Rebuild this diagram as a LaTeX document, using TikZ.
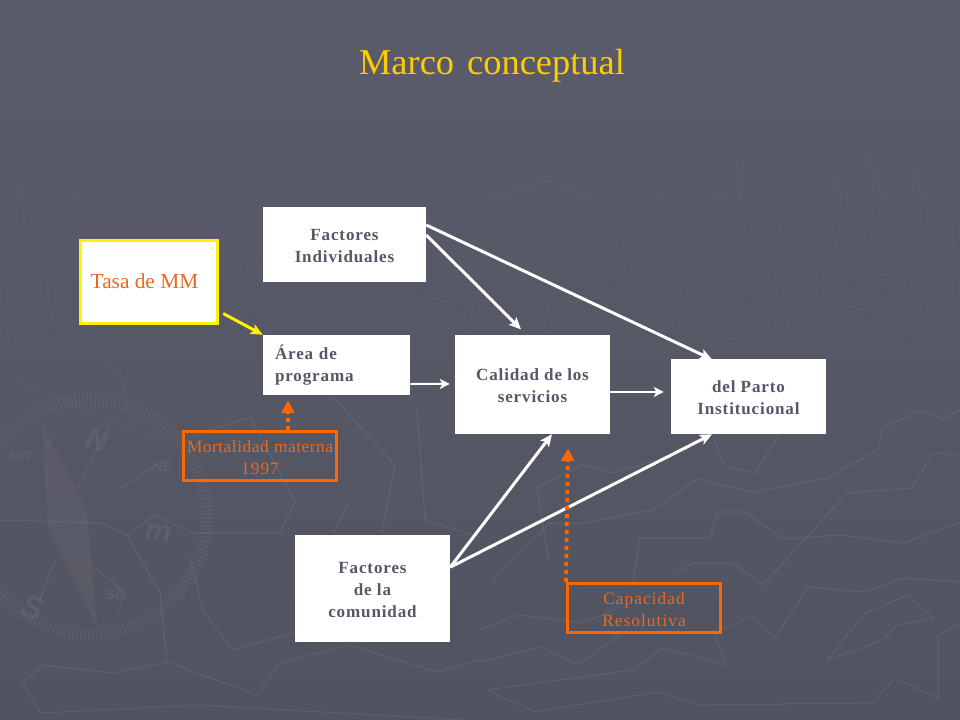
\documentclass[tikz,border=0pt]{standalone}
\usepackage{fontspec}
\setmainfont{Liberation Serif}
\setsansfont{Liberation Sans}
\newfontfamily\boxfont[LetterSpace=5]{Liberation Serif}
\newfontfamily\orangefont[LetterSpace=6]{Liberation Serif}
\usetikzlibrary{arrows.meta, positioning}
\def\lowline{\rule{0pt}{10.5pt}}
\def\loworange{\rule{0pt}{12pt}}
\definecolor{slidetop}{HTML}{5A5C6B}
\definecolor{slidebot}{HTML}{525360}
\definecolor{boxtext}{HTML}{565768}
\definecolor{markorange}{HTML}{FF6600}
\definecolor{labelorange}{HTML}{E8691E}
\definecolor{titleyellow}{HTML}{FFCC00}
\tikzset{
  whitebox/.style={fill=white, text=boxtext, inner sep=0pt, align=center, font=\boxfont\bfseries\fontsize{12.8}{16.5}\selectfont},
  orangebox/.style={draw=markorange, line width=2.6pt, text=labelorange, inner sep=0pt, align=center, minimum width=114.4pt, minimum height=36.4pt, font=\orangefont\fontsize{13}{16.5}\selectfont},
  wire/.style={white, line width=2.25pt, -{Stealth[length=9pt,width=8pt,inset=2pt]}},
  thinwire/.style={white, line width=1.5pt, -{Stealth[length=7.5pt,width=7.5pt,inset=2pt]}},
  dotwire/.style={markorange, line width=2.8pt, dash pattern=on 3pt off 3pt, -{Triangle[length=9.5pt,width=9.5pt]}},
  mapstroke/.style={white, opacity=.075, line width=0.8pt},
  farstroke/.style={white, opacity=.035, line width=0.8pt},
  faintletter/.style={text=white, text opacity=.06, font=\sffamily\bfseries\itshape, inner sep=0pt}
}
\begin{document}
\begin{tikzpicture}[x=.75pt, y=-.75pt]
\useasboundingbox (0,0) rectangle (960,720);
\shade[top color=slidetop, bottom color=slidebot] (0,0) rectangle (960,720);

% map lines behind the boxes
\begin{scope}
\clip (0,0) rectangle (960,720);
\draw[mapstroke] (480,630) -- (518,615) -- (583,623) -- (620,607);
\draw[mapstroke] (632,587) -- (640,538) -- (710,538) -- (718,512) -- (745,512) -- (783,539) -- (840,535) -- (903,543) -- (960,523);
\draw[mapstroke] (493,580) -- (550,523) -- (583,523) -- (653,510) -- (697,479) -- (753,492) -- (827,478) -- (878,450) -- (883,428) -- (922,410) -- (942,420) -- (960,410);
\draw[mapstroke] (549,562) -- (537,488) -- (582,465) -- (613,473) -- (657,460);
\draw[mapstroke] (677,573) -- (693,563) -- (733,563) -- (763,585) -- (847,493) -- (912,488) -- (933,453) -- (960,455);
\draw[mapstroke] (722,630) -- (752,615) -- (775,638) -- (808,587) -- (865,592) -- (902,578) -- (960,582);
\draw[mapstroke] (480,662) -- (540,647) -- (577,665) -- (620,635);
\draw[mapstroke] (712,630) -- (727,665) -- (663,648) -- (633,670) -- (487,690) -- (535,712) -- (657,692) -- (697,705) -- (872,703) -- (895,678) -- (938,698) -- (938,635) -- (960,623);
\draw[mapstroke] (827,660) -- (865,613) -- (908,595) -- (933,618) -- (897,625) -- (883,640) -- cycle;
\draw[mapstroke] (713,437) -- (725,467) -- (755,473) -- (780,433);
\draw[farstroke] (480,203) -- (547,180) -- (617,210) -- (615,240) -- (628,278) -- (600,297) -- (548,307) -- (552,333);
\draw[farstroke] (657,193) -- (702,260) -- (670,330);
\draw[farstroke] (713,190) -- (748,220) -- (723,277) -- (763,307) -- (773,337) -- (713,340);
\draw[farstroke] (737,160) -- (740,207) -- (780,213) -- (782,253) -- (773,283) -- (790,327) -- (790,350);
\draw[farstroke] (810,257) -- (827,303) -- (867,310) -- (910,347) -- (960,357);
\draw[farstroke] (830,167) -- (842,200) -- (833,273) -- (880,290) -- (907,273) -- (925,320) -- (960,330);
\draw[farstroke] (867,153) -- (883,200) -- (865,257) -- (870,277) -- (903,273);
\draw[farstroke] (913,167) -- (927,213) -- (923,260) -- (952,295) -- (953,223) -- (960,207);
\draw[farstroke] (18,183) -- (25,227) -- (0,293) -- (13,360);
\draw[farstroke] (80,193) -- (42,247) -- (53,328) -- (100,350);
\draw[farstroke] (233,287) -- (243,263) -- (263,262);
\draw[farstroke] (233,287) -- (273,337);
\draw[farstroke] (393,290) -- (473,307) -- (467,337);
\draw[farstroke] (17,380) -- (133,430) -- (183,440);
\draw[farstroke] (107,360) -- (120,373) -- (132,428);
\draw[mapstroke] (120,488) -- (170,457);
\draw[mapstroke] (0,520) -- (103,523) -- (127,535);
\draw[mapstroke] (127,535) -- (155,515) -- (192,533) -- (280,533) -- (295,502) -- (250,417) -- (187,438);
\draw[mapstroke] (127,535) -- (160,593) -- (167,662) -- (257,695) -- (280,663) -- (350,645) -- (437,672) -- (480,660);
\draw[mapstroke] (190,557) -- (203,610) -- (232,650) -- (293,633);
\draw[mapstroke] (40,713) -- (23,682) -- (43,665) -- (113,673) -- (167,662);
\draw[mapstroke] (40,713) -- (200,705) -- (463,720);
\draw[mapstroke] (350,500) -- (333,533);
\draw[mapstroke] (333,397) -- (395,465) -- (382,533);
\draw[mapstroke] (417,407) -- (425,520) -- (480,537);
\draw[mapstroke] (55,560) -- (40,600);
\draw[mapstroke] (78,487) -- (110,423);
\draw[mapstroke] (95,567) -- (125,593) -- (117,613);
\end{scope}

% compass
\draw[white, opacity=.05, line width=9.5pt, dash pattern=on 1pt off 2pt] (90,517) circle [radius=117];
\fill[white, opacity=.035] (42,423) -- (48,527) -- (97,627) -- (87,510) -- cycle;
\node[faintletter, rotate=-15, scale=2.2] (compassn) at (97,440) {N};
\node[faintletter, rotate=-15, scale=2.4] (compasss) at (33,608) {S};
\node[faintletter, rotate=-5, scale=2.2] (compassm) at (158,533) {m};
\node[faintletter] (compassnw) at (20,455) {NW};
\node[faintletter] (compassne) at (162,467) {NE};
\node[faintletter] (compassse) at (115,595) {SE};

\node[text=titleyellow, font=\fontsize{27.3}{32}\selectfont] (title) at (492,66) {Marco\hspace{3pt} conceptual};

\node[draw=yellow, line width=2.25pt, fill=white, text=labelorange, inner sep=0pt, minimum width=102.75pt, minimum height=62.25pt, font=\fontsize{16}{18}\selectfont] (tasa) at (149,282) {\hspace{-6.8pt}\raisebox{1.5pt}{Tasa de MM}};
\node[whitebox, minimum width=122.25pt, minimum height=56.25pt] (indiv) at (344.5,244.5) {\lowline Factores\\Individuales};
\node[whitebox, minimum width=110.25pt, minimum height=45pt, align=left, text width=92.25pt] (area) at (336.5,365) {Área de\\programa};
\node[whitebox, minimum width=116.25pt, minimum height=74.25pt] (calidad) at (532.5,384.5) {\lowline Calidad de los\\servicios};
\node[whitebox, minimum width=116.25pt, minimum height=56.25pt] (parto) at (748.5,396.5) {\lowline del Parto\\Institucional};
\node[whitebox, minimum width=116.25pt, minimum height=80.25pt] (comunidad) at (372.5,588.5) {\lowline Factores\\de la\\comunidad};
\node[orangebox] (mortalidad) at (260,456) {\addfontfeature{LetterSpace=3}\loworange Mortalidad\hspace{4pt}materna\\1997};
\node[orangebox] (capacidad) at (644,608) {\loworange Capacidad\\Resolutiva};

\draw[wire] ([yshift=7.1pt]indiv.east) -- ([xshift=-8.6pt,yshift=4pt]calidad.north);
\draw[wire] ([yshift=14.6pt]indiv.east) -- ([xshift=-27.4pt,yshift=-.5pt]parto.north);
\draw[wire] ([yshift=16pt]comunidad.east) -- ([xshift=14.6pt]calidad.south);
\draw[wire] ([yshift=16pt]comunidad.east) -- ([xshift=-27.4pt]parto.south);
\draw[thinwire] ([yshift=-14.25pt]area.east) -- ([xshift=-3.75pt,yshift=.4pt]calidad.west);
\draw[thinwire] ([yshift=-5.6pt]calidad.east) -- ([xshift=-5.25pt,yshift=3.4pt]parto.west);
\draw[yellow, line width=2.25pt, -{Stealth[length=9pt,width=8pt,inset=2pt]}] ([xshift=3.2pt,yshift=8.6pt]tasa.south east) -- (area.north west);
\draw[dotwire] ([xshift=21pt]mortalidad.north) -- ([xshift=-36.4pt,yshift=-3.75pt]area.south);
\draw[dotwire] (capacidad.north west) -- ([xshift=26.6pt,yshift=-10.5pt]calidad.south);
\end{tikzpicture}
\end{document}
